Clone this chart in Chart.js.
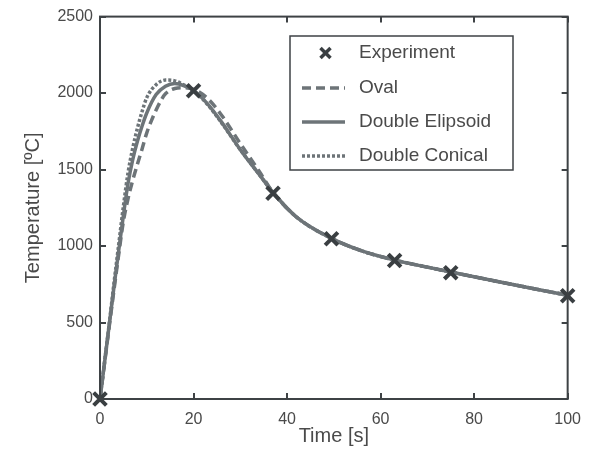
<!DOCTYPE html>
<html>
<head>
<meta charset="utf-8">
<script src="https://cdn.jsdelivr.net/npm/chart.js@4.4.0/dist/chart.umd.min.js"></script>
<style>
  html, body { margin: 0; padding: 0; background: #fff; }
  #wrap { width: 592px; height: 450px; }
</style>
</head>
<body>
<div id="wrap"><canvas id="c" width="592" height="450"></canvas></div>
<script>
// values
const expTime = [0, 20, 37, 49.5, 63, 75, 100];
const expTemp = [0, 2015, 1345, 1048, 905, 826, 675];

const ellipsoidTime = [0, 1, 2, 3, 4, 5, 6, 7, 8, 9, 10, 12, 14, 16, 18, 20, 23, 26, 30, 34, 37, 42, 49.5, 56, 63, 70, 75, 85, 100];
const ellipsoidTemp = [0, 245, 490, 735, 970, 1200, 1410, 1565, 1685, 1785, 1870, 1990, 2045, 2063, 2048, 2018, 1930, 1810, 1630, 1470, 1350, 1190, 1050, 968, 908, 862, 830, 768, 678];

const conicalTime = [0, 1, 2, 3, 4, 5, 6, 7, 8, 9, 10, 12, 14, 16, 18, 20, 23, 26, 30, 34, 37, 42, 49.5, 56, 63, 70, 75, 85, 100];
const conicalTemp = [0, 250, 500, 760, 1010, 1260, 1480, 1640, 1770, 1880, 1970, 2055, 2085, 2080, 2052, 2016, 1925, 1805, 1630, 1470, 1350, 1190, 1050, 968, 908, 862, 830, 768, 678];

const ovalTime = [0, 1, 2, 3, 4, 5, 6, 7, 8, 9, 10, 11, 12, 13, 14, 16, 18, 20, 23, 26, 30, 34, 37, 42, 49.5, 56, 63, 70, 75, 85, 100];
const ovalTemp = [0, 240, 480, 715, 945, 1160, 1310, 1430, 1535, 1635, 1740, 1820, 1890, 1950, 1995, 2030, 2035, 2025, 1965, 1855, 1670, 1490, 1350, 1190, 1050, 968, 908, 862, 830, 768, 678];

const xTicks = [0, 20, 40, 60, 80, 100];
const yTicks = [0, 500, 1000, 1500, 2000, 2500];

const toPts = (xs, ys) => xs.map((x, i) => ({ x: x, y: ys[i] }));

const curveColor = '#6d7478';
const markColor = '#3a3f42';
const axisColor = '#3e4245';
const textColor = '#4a4a4a';
const fontFam = "'Liberation Sans', Arial, sans-serif";

// frame with inward ticks on all four sides
const framePlugin = {
  id: 'frame',
  afterDatasetsDraw(chart) {
    const { ctx, chartArea: a, scales } = chart;
    const len = 6;
    ctx.save();
    ctx.strokeStyle = axisColor;
    ctx.lineWidth = 2;
    ctx.strokeRect(a.left, a.top, a.right - a.left, a.bottom - a.top);
    ctx.beginPath();
    xTicks.forEach(v => {
      const px = Math.round(scales.x.getPixelForValue(v));
      ctx.moveTo(px, a.bottom); ctx.lineTo(px, a.bottom - len);
      ctx.moveTo(px, a.top); ctx.lineTo(px, a.top + len);
    });
    yTicks.forEach(v => {
      const py = Math.round(scales.y.getPixelForValue(v));
      ctx.moveTo(a.left, py); ctx.lineTo(a.left + len, py);
      ctx.moveTo(a.right, py); ctx.lineTo(a.right - len, py);
    });
    ctx.stroke();
    ctx.restore();
  }
};

// boxed legend inside the plot, like the figure
const boxLegend = {
  id: 'boxLegend',
  afterDraw(chart) {
    const ctx = chart.ctx;
    const left = 290, top = 36, w = 223, h = 134;
    const rowY = [53, 88, 122, 156];
    const sx0 = 302, sx1 = 345, tx = 359;
    ctx.save();
    ctx.fillStyle = '#fff';
    ctx.fillRect(left, top, w, h);
    ctx.strokeStyle = axisColor;
    ctx.lineWidth = 1.5;
    ctx.strokeRect(left, top, w, h);
    const order = [3, 0, 1, 2];
    order.forEach((di, i) => {
      const ds = chart.data.datasets[di];
      const y = rowY[i];
      if (di === 3) {
        const cx = (sx0 + sx1) / 2 + 2, r = 5;
        ctx.strokeStyle = markColor;
        ctx.lineWidth = 3.5;
        ctx.setLineDash([]);
        ctx.beginPath();
        ctx.moveTo(cx - r, y - r); ctx.lineTo(cx + r, y + r);
        ctx.moveTo(cx + r, y - r); ctx.lineTo(cx - r, y + r);
        ctx.stroke();
      } else {
        ctx.strokeStyle = ds.borderColor;
        ctx.lineWidth = ds.borderWidth;
        ctx.setLineDash(ds.borderDash || []);
        ctx.beginPath();
        ctx.moveTo(sx0, y); ctx.lineTo(sx1, y);
        ctx.stroke();
      }
      ctx.setLineDash([]);
      ctx.fillStyle = textColor;
      ctx.font = '19px ' + fontFam;
      ctx.textBaseline = 'middle';
      ctx.fillText(ds.label, tx, y);
    });
    ctx.restore();
  }
};

const cfg = {
  type: 'line',
  data: {
    datasets: [
      {
        label: 'Oval',
        data: toPts(ovalTime, ovalTemp),
        borderColor: curveColor,
        borderWidth: 3.5,
        borderDash: [9, 5],
        pointRadius: 0,
        cubicInterpolationMode: 'monotone',
        order: 3
      },
      {
        label: 'Double Elipsoid',
        data: toPts(ellipsoidTime, ellipsoidTemp),
        borderColor: curveColor,
        borderWidth: 3.5,
        pointRadius: 0,
        cubicInterpolationMode: 'monotone',
        order: 1
      },
      {
        label: 'Double Conical',
        data: toPts(conicalTime, conicalTemp),
        borderColor: curveColor,
        borderWidth: 3.5,
        borderDash: [3, 2],
        pointRadius: 0,
        cubicInterpolationMode: 'monotone',
        order: 2
      },
      {
        label: 'Experiment',
        data: toPts(expTime, expTemp),
        showLine: false,
        pointStyle: 'crossRot',
        pointRadius: 9,
        pointBorderWidth: 4,
        pointBorderColor: markColor,
        borderColor: markColor,
        clip: false,
        order: 0
      }
    ]
  },
  options: {
    responsive: false,
    animation: false,
    layout: { padding: { left: 0, right: 23, top: 16, bottom: 0 } },
    plugins: { legend: { display: false }, tooltip: { enabled: false } },
    scales: {
      x: {
        type: 'linear',
        min: 0, max: 100,
        grid: { display: false, drawTicks: false },
        border: { display: false },
        afterBuildTicks: s => { s.ticks = xTicks.map(v => ({ value: v })); },
        afterFit: s => { s.height = 51; },
        ticks: { color: textColor, padding: 11, font: { family: fontFam, size: 16 }, callback: v => String(v) },
        title: { display: true, text: 'Time [s]', color: textColor, padding: { top: 0, bottom: 2 }, font: { family: fontFam, size: 20 } }
      },
      y: {
        min: 0, max: 2500,
        grid: { display: false, drawTicks: false },
        border: { display: false },
        afterBuildTicks: s => { s.ticks = yTicks.map(v => ({ value: v })); },
        afterFit: s => { s.width = 100; },
        ticks: { color: textColor, padding: 7, font: { family: fontFam, size: 16 }, callback: v => String(v) },
        title: { display: true, text: 'Temperature [ºC]', color: textColor, padding: { top: 21, bottom: 0 }, font: { family: fontFam, size: 20 } }
      }
    }
  },
  plugins: [framePlugin, boxLegend]
};

new Chart(document.getElementById('c'), cfg);
</script>
</body>
</html>
